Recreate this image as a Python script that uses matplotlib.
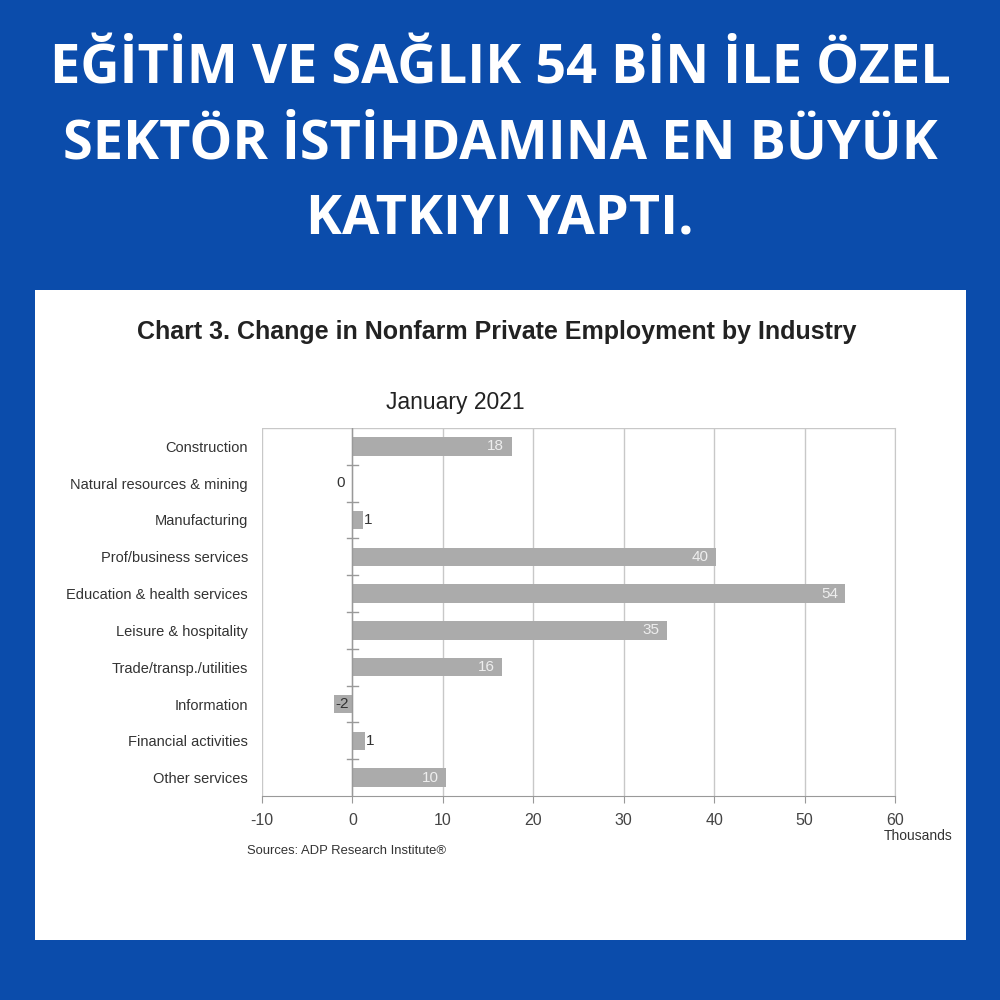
import matplotlib.pyplot as plt
from matplotlib.patches import Rectangle
import numpy as np

headline = ["EĞİTİM VE SAĞLIK 54 BİN İLE ÖZEL",
            "SEKTÖR İSTİHDAMINA EN BÜYÜK",
            "KATKIYI YAPTI."]
industries = ["Construction", "Natural resources & mining", "Manufacturing",
              "Prof/business services", "Education & health services",
              "Leisure & hospitality", "Trade/transp./utilities", "Information",
              "Financial activities", "Other services"]
values = [17.6, 0.0, 1.2, 40.2, 54.5, 34.8, 16.5, -2.0, 1.4, 10.4]
value_labels = ["18", "0", "1", "40", "54", "35", "16", "-2", "1", "10"]
x_ticks = [-10, 0, 10, 20, 30, 40, 50, 60]

blue = "#0b4cab"
bar_gray = "#ababab"
grid_gray = "#c8c8c8"

fig = plt.figure(figsize=(10, 10), dpi=100)
fig.patch.set_facecolor(blue)

# white card
fig.add_artist(Rectangle((0.035, 0.06), 0.931, 0.65, transform=fig.transFigure,
                         facecolor="white", edgecolor="none", zorder=-5))

for i, line in enumerate(headline):
    fig.text(0.5, 0.93 - i * 0.075, line, ha="center", va="center", color="white",
             fontsize=39, fontweight="bold", family="Open Sans")

fig.text(0.497, 0.668, "Chart 3. Change in Nonfarm Private Employment by Industry",
         ha="center", va="center", fontsize=18, fontweight="bold",
         family="Liberation Sans", color="#222222")
fig.text(0.455, 0.598, "January 2021", ha="center", va="center", fontsize=16.5,
         family="Liberation Sans", color="#222222")

ax = fig.add_axes([0.262, 0.204, 0.633, 0.368])
ax.set_facecolor("white")
y = np.arange(len(industries))
ax.barh(y, values, height=0.5, color=bar_gray, zorder=3)
ax.set_ylim(len(industries) - 0.5, -0.5)
ax.set_xlim(-10, 60)
ax.set_xticks(x_ticks)
ax.set_xticklabels([str(t) for t in x_ticks], family="Liberation Sans",
                   fontsize=11.5, color="#444444")
ax.set_yticks(y)
ax.set_yticklabels(industries, family="Liberation Sans", fontsize=10.5,
                   color="#333333")
ax.tick_params(axis="y", length=0, pad=10)
ax.tick_params(axis="x", length=5, color="#999999", direction="out", pad=7)
ax.grid(axis="x", color=grid_gray, linewidth=1, zorder=0)

for side in ["top", "left"]:
    ax.spines[side].set_visible(False)
ax.spines["right"].set_color(grid_gray)
ax.spines["bottom"].set_color("#999999")
ax.axhline(-0.5, color=grid_gray, linewidth=1, zorder=0)

# category axis at zero with small separator ticks
ax.axvline(0, color="#999999", linewidth=1, zorder=4)
for b in np.arange(0.5, len(industries) - 0.5, 1):
    ax.plot([-0.6, 0.6], [b, b], color="#999999", linewidth=1, zorder=4)

for yi, v, lab in zip(y, values, value_labels):
    if v >= 5:
        ax.text(v - 0.8, yi, lab, ha="right", va="center", color="#eeeeee",
                fontsize=11, family="Liberation Sans", zorder=5)
    elif v == 0:
        ax.text(-0.8, yi, lab, ha="right", va="center", color="#333333",
                fontsize=11, family="Liberation Sans", zorder=5)
    else:
        ax.text(v + 0.1, yi, lab, ha="left", va="center", color="#333333",
                fontsize=11, family="Liberation Sans", zorder=5)

fig.text(0.918, 0.164, "Thousands", ha="center", va="center", fontsize=10,
         family="Liberation Sans", color="#333333")
fig.text(0.247, 0.149, "Sources: ADP Research Institute®", ha="left", va="center",
         fontsize=9.4, family="Liberation Sans", color="#333333")

fig.savefig("out.png", dpi=100, facecolor=blue)
